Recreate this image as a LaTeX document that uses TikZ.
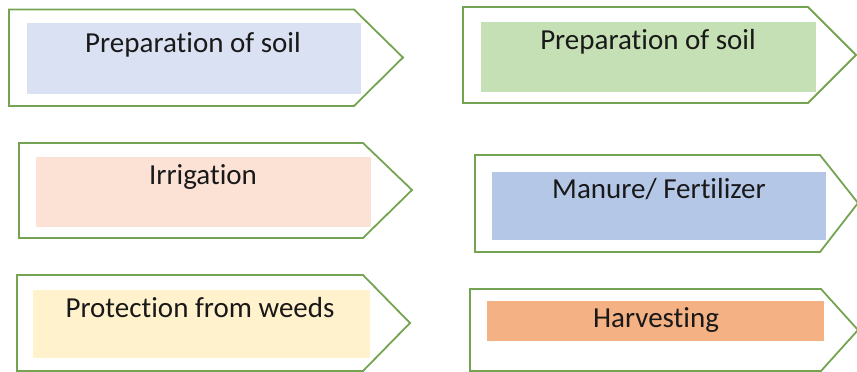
\documentclass[tikz,border=0pt]{standalone}
\usepackage{fontspec}
\setmainfont{Carlito}[Ligatures={NoCommon,NoRare,NoContextual}]
\definecolor{edge}{RGB}{116,164,82}
\definecolor{fa}{RGB}{218,225,242}
\definecolor{fb}{RGB}{197,224,180}
\definecolor{fc}{RGB}{251,226,213}
\definecolor{fd}{RGB}{180,199,231}
\definecolor{fe}{RGB}{255,242,204}
\definecolor{ff}{RGB}{244,177,131}
\begin{document}
\begin{tikzpicture}[x=1pt,y=-1pt,
  outer/.style={draw=edge,line width=1.8pt,line join=miter},
  label/.style={font=\fontsize{29}{34}\selectfont,text=black!90,anchor=base,inner sep=0pt}]
\useasboundingbox (0,0) rectangle (857,372);
\clip (0,0) rectangle (857,372);
% Box 1
\draw[outer] (9,9.5) -- (354,9.5) -- (403,57.5) -- (354,106) -- (9,106) -- cycle;
\fill[fa] (27,23) rectangle (361,94);
\node[label] (t1) at (193,52) {Preparation of soil};
% Box 2
\draw[outer] (463,7) -- (808,7) -- (856,55) -- (808,103) -- (463,103) -- cycle;
\fill[fb] (481,22) rectangle (816,92);
\node[label] (t2) at (648,49) {Preparation of soil};
% Box 3
\draw[outer] (19,143) -- (363,143) -- (412,190) -- (363,238) -- (19,238) -- cycle;
\fill[fc] (36,157) rectangle (371,227);
\node[label] (t3) at (203,184) {Irrigation};
% Box 4
\draw[outer] (475,155) -- (820,155) -- (858,203) -- (820,252) -- (475,252) -- cycle;
\fill[fd] (492,172) rectangle (826,240);
\node[label] (t4) at (659,198) {Manure/ Fertilizer};
% Box 5
\draw[outer] (17,275) -- (363,275) -- (410,323) -- (363,371) -- (17,371) -- cycle;
\fill[fe] (33,290) rectangle (370,358);
\node[label] (t5) at (200,317) {Protection from weeds};
% Box 6
\draw[outer] (470,289) -- (821,289) -- (858,330) -- (821,371) -- (470,371) -- cycle;
\fill[ff] (487,301) rectangle (824,341);
\node[label] (t6) at (656,327) {Harvesting};
\end{tikzpicture}
\end{document}
